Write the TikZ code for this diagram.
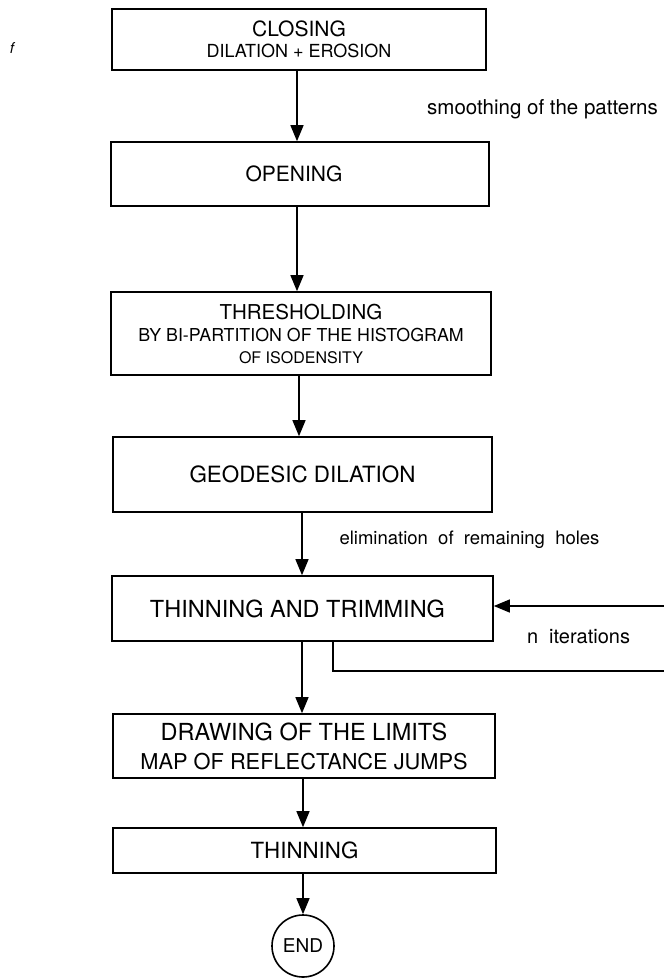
\documentclass[tikz,border=0pt]{standalone}
\usepackage{fontspec}
\setmainfont{TeX Gyre Heros}
\usetikzlibrary{arrows.meta}
\begin{document}
\begin{tikzpicture}[x=1pt,y=-1pt,
  box/.style={draw, line width=1.6pt, rectangle, inner sep=0pt, align=center},
  arr/.style={line width=1.3pt, -{Triangle[length=16pt,width=13pt]}},
  link/.style={line width=1.3pt},
  note/.style={inner sep=0pt}]
\useasboundingbox (0,0) rectangle (664,978);
\fill[white] (0,0) rectangle (664,978);

\node[note, font=\itshape\fontsize{15}{15}\selectfont] (mark) at (12,48) {f};

\node[box, minimum width=374pt, minimum height=61pt, font=\fontsize{18}{21}\selectfont] (b1) at (299,39.5)
  {{\fontsize{21}{21}\selectfont CLOSING}\\{\fontsize{18}{18}\selectfont DILATION + EROSION}};
\node[box, minimum width=378pt, minimum height=64pt] (b2) at (300,174)
  {\fontsize{21}{21}\selectfont \hspace*{-12pt}OPENING};
\node[box, minimum width=380pt, minimum height=83pt, font=\fontsize{16}{22}\selectfont] (b3) at (301,333.5)
  {{\fontsize{20.5}{20}\selectfont THRESHOLDING}\\{\fontsize{17.8}{18}\selectfont BY BI-PARTITION OF THE HISTOGRAM}\\{\fontsize{16}{16}\selectfont OF ISODENSITY}};
\node[box, minimum width=379pt, minimum height=75pt] (b4) at (302.5,474.5)
  {\fontsize{22.4}{22}\selectfont GEODESIC DILATION};
\node[box, minimum width=381pt, minimum height=65pt] (b5) at (302.5,608.5)
  {\fontsize{23.5}{23}\selectfont \hspace*{-10pt}THINNING AND TRIMMING};
\node[box, minimum width=382pt, minimum height=64pt, font=\fontsize{22}{29}\selectfont] (b6) at (304,746)
  {{\fontsize{23.5}{23}\selectfont DRAWING OF THE LIMITS}\\{\fontsize{21.8}{22}\selectfont MAP OF REFLECTANCE JUMPS}};
\node[box, minimum width=383pt, minimum height=45pt] (b7) at (304.5,850.5)
  {\fontsize{22.3}{22}\selectfont THINNING};
\node[draw, circle, line width=1.6pt, minimum size=62pt, inner sep=0pt] (end) at (303,946)
  {\fontsize{19}{19}\selectfont END};

\draw[arr] ([xshift=-2pt]b1.south) -- ([xshift=-2pt]b1.south |- b2.north);
\draw[arr] ([xshift=-3pt]b2.south) -- ([xshift=-3pt]b2.south |- b3.north);
\draw[arr] ([xshift=-2pt]b3.south) -- ([xshift=-2pt]b3.south |- b4.north);
\draw[arr] ([xshift=-0.5pt]b4.south) -- ([xshift=-0.5pt]b4.south |- b5.north);
\draw[arr] ([xshift=-0.5pt]b5.south) -- ([xshift=-0.5pt]b5.south |- b6.north);
\draw[arr] ([xshift=-1pt]b6.south) -- ([xshift=-1pt]b6.south |- b7.north);
\draw[arr] (b7.south -| end) -- (end.north);

\node[note, font=\fontsize{20.5}{20}\selectfont] (smooth) at (542.5,109) {smoothing of the patterns};
\node[note, font=\fontsize{18.5}{18}\selectfont] (elim) at (469.5,540) {elimination\ \ of\ \ remaining\ \ holes};
\node[note, font=\fontsize{20}{20}\selectfont] (iter) at (578.5,637) {n\ \ iterations};

\coordinate (fbin) at (664,606);
\coordinate (fbx) at (333,671);
\coordinate (fbout) at (664,671);
\draw[arr] (fbin) -- (b5.east |- fbin);
\draw[link] (b5.south -| fbx) -- (fbx) -- (fbout);
\end{tikzpicture}
\end{document}
